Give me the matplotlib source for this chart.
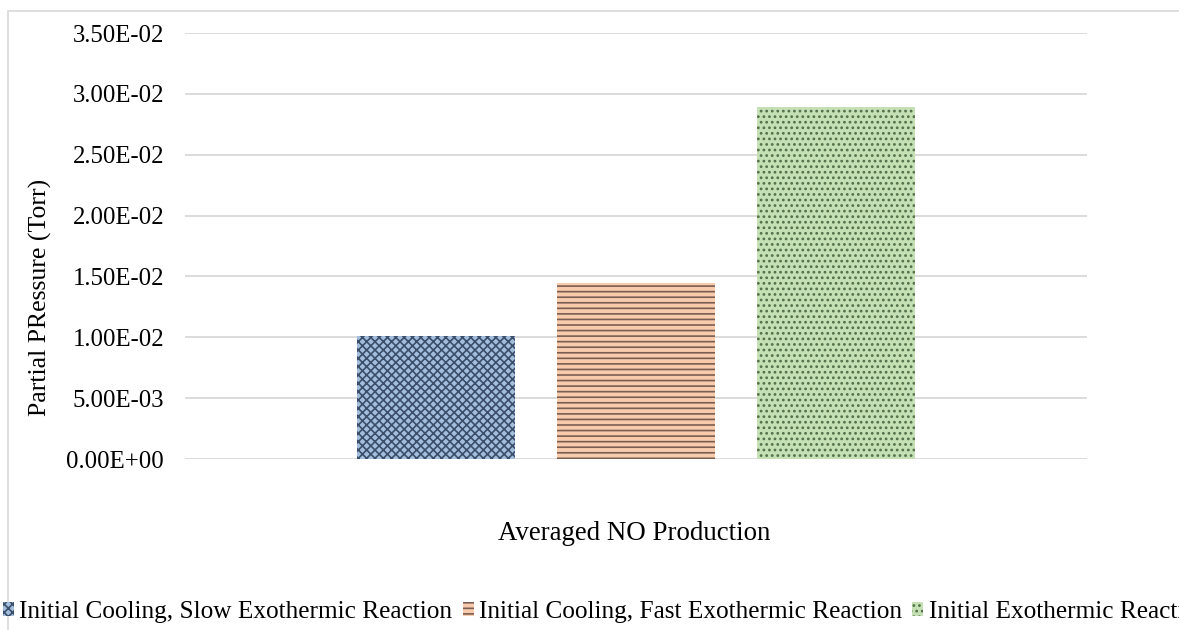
import matplotlib
matplotlib.use("Agg")
import matplotlib.pyplot as plt
from matplotlib.patches import Rectangle

categories = ["Averaged NO Production"]
series_names = ["Initial Cooling, Slow Exothermic Reaction",
                "Initial Cooling, Fast Exothermic Reaction",
                "Initial Exothermic Reaction"]
values = [0.0101, 0.01445, 0.0289]
yticks = [0.0, 0.005, 0.010, 0.015, 0.020, 0.025, 0.030, 0.035]
ytick_labels = ["0.00E+00", "5.00E-03", "1.00E-02", "1.50E-02",
                "2.00E-02", "2.50E-02", "3.00E-02", "3.50E-02"]

face_colors = ["#A3BEDC", "#F8CBAD", "#C5E0B4"]
hatch_colors = ["#3B4F6B", "#7A5E52", "#52704A"]
hatches = ["xxxx", "---", "..."]

plt.rcParams['font.family'] = ['Liberation Serif', 'DejaVu Serif']
plt.rcParams['hatch.linewidth'] = 1.2

W, H = 1179, 630
fig = plt.figure(figsize=(W / 100, H / 100), dpi=100)
fig.patch.set_facecolor("white")

# chart border
fig.patches.append(Rectangle((8 / W, -0.1), 1.2, 1 - 11 / H + 0.1,
                             transform=fig.transFigure, fill=False,
                             edgecolor="#D9D9D9", linewidth=1.2, zorder=0))

ax = fig.add_axes([185 / W, 1 - 459 / H, (1087 - 185) / W, (459 - 33) / H])
ax.set_xlim(-0.5, 0.5)
ax.set_ylim(0, 0.035)

bar_w = 158 / 902
step = 200 / 902
handles = []
for i, (name, v) in enumerate(zip(series_names, values)):
    x = (i - 1) * step
    b = ax.bar(x, v, width=bar_w, color=face_colors[i], edgecolor=hatch_colors[i],
               hatch=hatches[i], linewidth=0, label=name, zorder=3)
    handles.append(b)

ax.set_yticks(yticks)
ax.set_yticklabels(ytick_labels, fontsize=17.8)
ax.set_xticks([])
ax.tick_params(axis='y', length=0, pad=15)
ax.grid(axis='y', color="#D9D9D9", linewidth=1.3, zorder=0)
ax.set_axisbelow(True)
for s in ax.spines.values():
    s.set_visible(False)

fig.text(40 / W, 1 - 297 / H, "Partial PRessure (Torr)", rotation=90,
         ha="center", va="center", fontsize=18.5)
fig.text(634 / W, 1 - 533 / H, categories[0], ha="center", va="center", fontsize=19.4)

fig.legend(handles=handles, labels=series_names, loc="center left",
           bbox_to_anchor=(3 / W, 1 - 612 / H), ncol=3, frameon=False,
           fontsize=18.2, handlelength=0.45, handleheight=0.45,
           handletextpad=0.2, columnspacing=0.4, borderpad=0, borderaxespad=0)

fig.savefig("out.png", dpi=100)
